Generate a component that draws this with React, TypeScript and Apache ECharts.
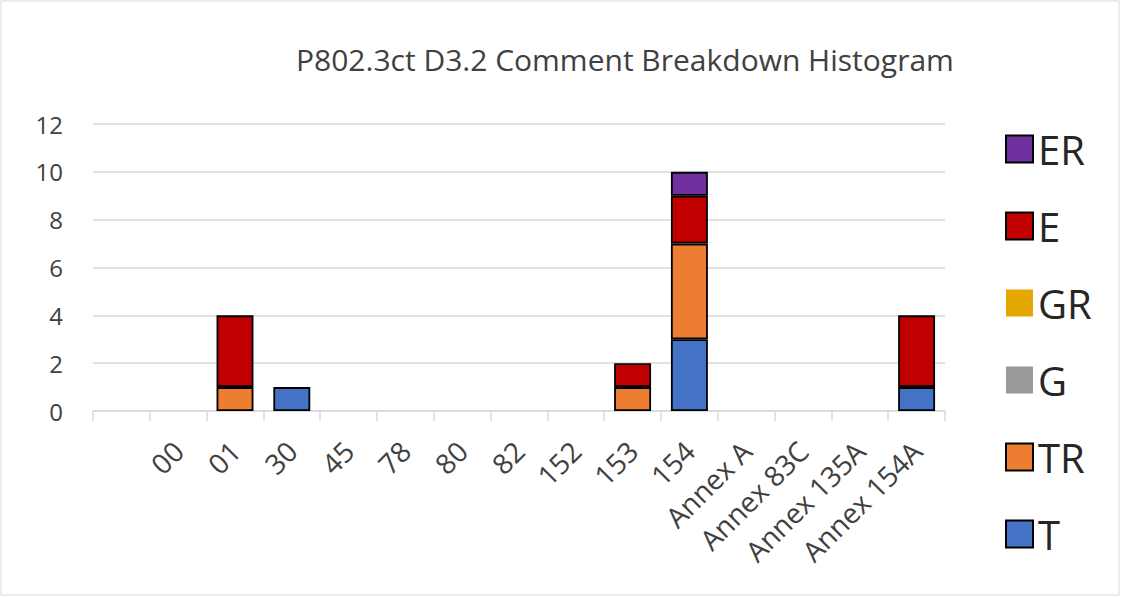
import React, { useEffect, useRef } from "react";
import * as echarts from "echarts";

const categories = ["", "00", "01", "30", "45", "78", "80", "82", "152", "153", "154", "Annex A", "Annex 83C", "Annex 135A", "Annex 154A"];
const T = [0, 0, 0, 1, 0, 0, 0, 0, 0, 0, 3, 0, 0, 0, 1];
const TR = [0, 0, 1, 0, 0, 0, 0, 0, 0, 1, 4, 0, 0, 0, 0];
const G = [0, 0, 0, 0, 0, 0, 0, 0, 0, 0, 0, 0, 0, 0, 0];
const GR = [0, 0, 0, 0, 0, 0, 0, 0, 0, 0, 0, 0, 0, 0, 0];
const E = [0, 0, 3, 0, 0, 0, 0, 0, 0, 1, 2, 0, 0, 0, 3];
const ER = [0, 0, 0, 0, 0, 0, 0, 0, 0, 0, 1, 0, 0, 0, 0];
const yTicks = { min: 0, max: 12, interval: 2 };
const title = "P802.3ct D3.2 Comment Breakdown Histogram";

const FONT = "'Open Sans', 'Liberation Sans', sans-serif";

export default function App() {
  const ref = useRef<HTMLDivElement>(null);
  useEffect(() => {
    if (!ref.current) return;
    const chart = echarts.init(ref.current, undefined, { renderer: "svg" });
    const mk = (name: string, data: number[], color: string, border: boolean) => ({
      name,
      type: "bar",
      stack: "total",
      barWidth: "65%",
      data: data.map((v) => (v === 0 ? null : v)),
      itemStyle: { color, borderColor: border ? "#000" : color, borderWidth: border ? 1.8 : 0 },
    });
    chart.setOption({
      animation: false,
      backgroundColor: "#fff",
      textStyle: { fontFamily: FONT },
      title: {
        text: title,
        left: 291,
        top: 39,
        textStyle: { fontSize: 30, fontWeight: "normal", color: "#404040", fontFamily: FONT },
      },
      legend: {
        orient: "vertical",
        left: 1000,
        top: 124,
        itemWidth: 27,
        itemHeight: 27,
        itemGap: 37,
        icon: "rect",
        textStyle: { fontSize: 40, color: "#262626", fontFamily: FONT },
        data: ["ER", "E", "GR", "G", "TR", "T"],
      },
      grid: { left: 93, right: 177, top: 124, bottom: 187 },
      xAxis: {
        type: "category",
        data: categories,
        axisLine: { lineStyle: { color: "#d9d9d9", width: 1.5 } },
        axisTick: { show: true, length: 10, lineStyle: { color: "#d9d9d9", width: 1.5 } },
        axisLabel: { rotate: 45, fontSize: 28, color: "#404040", interval: 0, margin: 35, fontFamily: FONT },
      },
      yAxis: {
        type: "value",
        min: yTicks.min,
        max: yTicks.max,
        interval: yTicks.interval,
        axisLabel: { fontSize: 24, color: "#404040", margin: 30, fontFamily: FONT },
        splitLine: { lineStyle: { color: "#d9d9d9", width: 1.5 } },
        axisLine: { show: false },
        axisTick: { show: false },
      },
      graphic: [
        {
          type: "rect",
          shape: { x: 1, y: 1, width: 1118, height: 594 },
          style: { fill: "none", stroke: "#d9d9d9", lineWidth: 1 },
          silent: true,
        },
      ],
      series: [
        mk("T", T, "#4472C4", true),
        mk("TR", TR, "#ED7D31", true),
        mk("G", G, "#999999", false),
        mk("GR", GR, "#E5A800", false),
        mk("E", E, "#C00000", true),
        mk("ER", ER, "#7030A0", true),
      ],
    });
    return () => chart.dispose();
  }, []);
  return <div ref={ref} style={{ position: "absolute", left: 0, top: 0, width: 1122, height: 598 }} />;
}
